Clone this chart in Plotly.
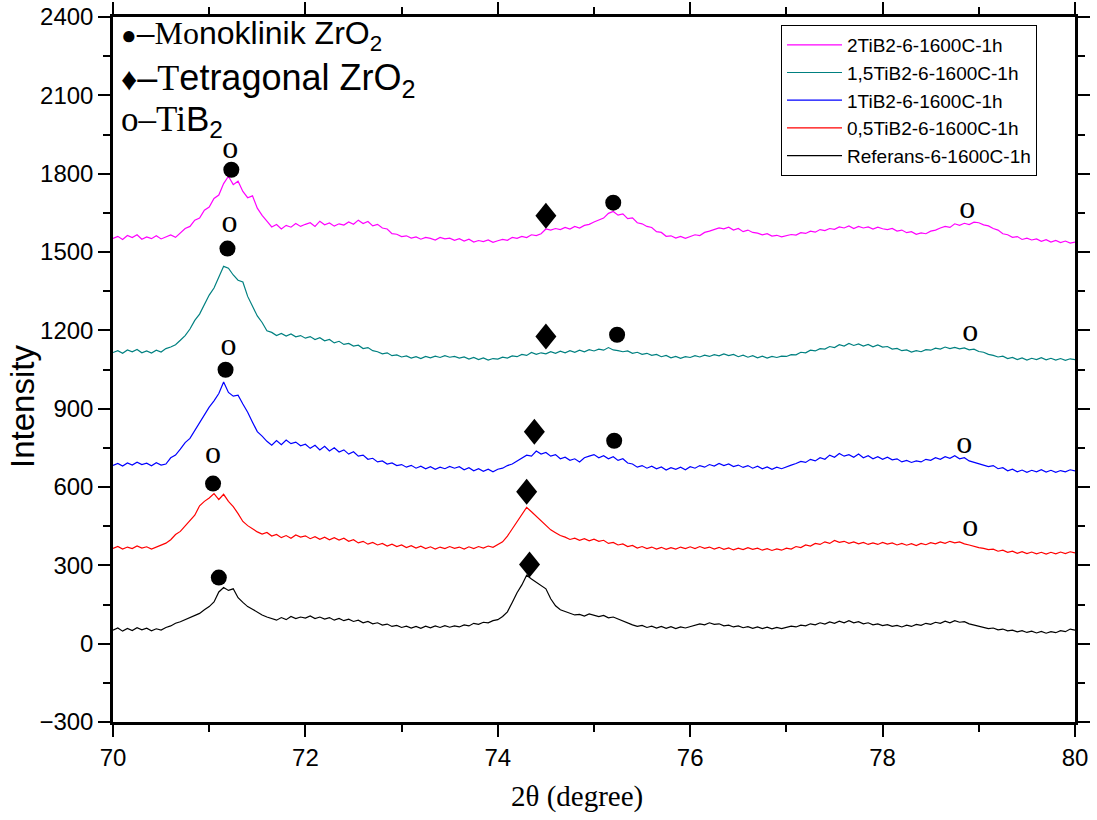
import numpy as np
import plotly.graph_objects as go

# 2-theta scan grid (0.05 degree step)
two_theta = np.round(np.arange(70.0, 80.0001, 0.05), 2)

# Intensities (offset per sample), one value per grid step
i_2tib2 = [
    1552, 1560, 1548, 1563, 1555, 1566, 1549, 1558, 1551, 1562, 1550, 1559, 1565, 1556, 1572, 1590, 1598, 1622, 1630, 1660,
    1672, 1705, 1718, 1762, 1790, 1758, 1771, 1732, 1708, 1715, 1668, 1640, 1618, 1596, 1605, 1588, 1602, 1595, 1609, 1598,
    1606, 1612, 1598, 1618, 1604, 1611, 1599, 1608, 1603, 1615, 1606, 1622, 1609, 1617, 1600, 1606, 1592, 1588, 1570, 1568,
    1559, 1562, 1553, 1558, 1549, 1556, 1552, 1546, 1556, 1550, 1553, 1545, 1551, 1542, 1549, 1538, 1544, 1540, 1546, 1537,
    1543, 1548, 1545, 1556, 1552, 1560, 1555, 1566, 1563, 1570, 1588, 1584, 1590, 1586, 1594, 1588, 1598, 1592, 1602, 1606,
    1615, 1622, 1630, 1648, 1655, 1641, 1646, 1628, 1631, 1612, 1608, 1598, 1594, 1578, 1575, 1560, 1562, 1553, 1560, 1552,
    1558, 1566, 1563, 1575, 1580, 1586, 1592, 1589, 1595, 1584, 1590, 1578, 1584, 1575, 1572, 1566, 1570, 1561, 1564, 1558,
    1562, 1567, 1565, 1574, 1571, 1580, 1576, 1586, 1582, 1590, 1587, 1596, 1592, 1600, 1590, 1598, 1592, 1596, 1588, 1595,
    1589, 1586, 1590, 1580, 1584, 1574, 1578, 1568, 1573, 1570, 1580, 1584, 1592, 1598, 1594, 1608, 1602, 1610, 1605, 1614,
    1612, 1604, 1600, 1590, 1584, 1570, 1566, 1556, 1559, 1548, 1553, 1546, 1550, 1541, 1547, 1538, 1544, 1536, 1542, 1534,
    1538,
]

i_15tib2 = [
    1115, 1122, 1112, 1125, 1118, 1127, 1114, 1121, 1113, 1124, 1117, 1130, 1136, 1145, 1162, 1180, 1205, 1238, 1262, 1300,
    1335, 1362, 1402, 1445, 1438, 1412, 1392, 1385, 1330, 1290, 1255, 1230, 1198, 1192, 1180, 1188, 1178, 1186, 1175, 1180,
    1170, 1176, 1165, 1172, 1160, 1165, 1152, 1158, 1146, 1150, 1140, 1143, 1130, 1134, 1122, 1118, 1110, 1114, 1103, 1106,
    1098, 1102, 1094, 1099, 1092, 1100, 1095, 1101, 1096, 1103, 1097, 1100, 1094, 1098, 1090, 1096, 1088, 1094, 1086, 1092,
    1090, 1097, 1094, 1102, 1099, 1108, 1104, 1115, 1108, 1114, 1110, 1118, 1112, 1120, 1114, 1122, 1116, 1124, 1118, 1126,
    1121, 1128, 1124, 1134, 1125, 1122, 1118, 1121, 1112, 1116, 1108, 1112, 1104, 1108, 1099, 1104, 1095, 1100, 1093, 1099,
    1096, 1103, 1098, 1105, 1100, 1107, 1102, 1110, 1103, 1108, 1099, 1105, 1097, 1103, 1095, 1101, 1094, 1100, 1096, 1101,
    1100, 1107, 1106, 1116, 1114, 1124, 1121, 1130, 1128, 1138, 1134, 1145, 1140, 1150, 1142, 1148, 1140, 1146, 1137, 1144,
    1136, 1138, 1128, 1131, 1122, 1125, 1117, 1122, 1118, 1126, 1124, 1132, 1128, 1136, 1130, 1135, 1129, 1133, 1125, 1128,
    1119, 1116, 1108, 1104, 1098, 1101, 1092, 1096, 1088, 1094, 1086, 1093, 1088, 1095, 1087, 1093, 1086, 1092, 1085, 1091,
    1088,
]

i_1tib2 = [
    683, 690, 680, 692, 684, 695, 686, 691, 681, 693, 684, 688, 712, 722, 745, 770, 786, 815, 846, 878,
    906, 930, 958, 1002, 962, 948, 952, 918, 886, 848, 812, 795, 775, 760, 778, 762, 780, 766, 772, 758,
    764, 748, 760, 742, 756, 738, 750, 734, 742, 726, 735, 718, 722, 706, 710, 696, 700, 688, 692, 682,
    686, 676, 683, 672, 680, 670, 678, 668, 676, 670, 679, 672, 678, 666, 674, 662, 670, 660, 668, 658,
    668, 672, 682, 688, 700, 712, 722, 718, 738, 726, 732, 718, 724, 708, 714, 702, 708, 696, 712, 718,
    724, 712, 720, 708, 716, 702, 708, 692, 688, 676, 682, 672, 680, 670, 677, 665, 674, 668, 676, 666,
    678, 672, 682, 676, 686, 680, 690, 682, 688, 678, 684, 675, 682, 672, 680, 670, 677, 668, 676, 670,
    678, 684, 690, 698, 694, 706, 700, 712, 706, 722, 714, 728, 718, 724, 714, 726, 712, 720, 708, 716,
    706, 714, 704, 708, 696, 702, 694, 700, 696, 706, 702, 712, 706, 716, 710, 720, 708, 712, 700, 694,
    688, 684, 678, 682, 670, 674, 662, 668, 658, 665, 656, 664, 658, 666, 657, 664, 656, 663, 658, 666,
    662,
]

i_05tib2 = [
    365, 372, 362, 370, 364, 374, 366, 371, 362, 369, 376, 385, 398, 418, 430, 452, 470, 492, 528, 545,
    558, 575, 552, 572, 545, 525, 498, 468, 452, 440, 428, 420, 426, 412, 418, 406, 414, 404, 416, 408,
    413, 402, 410, 400, 408, 398, 406, 397, 404, 392, 398, 386, 392, 381, 388, 378, 384, 374, 381, 372,
    378, 368, 375, 366, 373, 364, 371, 362, 370, 364, 372, 365, 370, 362, 371, 364, 372, 366, 374, 369,
    378, 390, 412, 440, 468, 492, 522, 505, 488, 470, 452, 436, 425, 414, 408, 399, 404, 396, 402, 394,
    400, 392, 396, 384, 388, 378, 382, 372, 376, 366, 372, 364, 370, 362, 369, 361, 368, 362, 370, 364,
    371, 364, 372, 365, 370, 362, 369, 361, 367, 359, 366, 360, 368, 361, 366, 358, 364, 357, 363, 358,
    366, 362, 372, 368, 378, 374, 384, 380, 390, 384, 395, 388, 392, 384, 390, 382, 388, 380, 386, 380,
    388, 381, 386, 378, 384, 377, 383, 376, 384, 379, 387, 382, 390, 384, 392, 386, 390, 382, 378, 372,
    368, 365, 360, 362, 354, 358, 350, 354, 346, 352, 345, 351, 344, 350, 343, 350, 344, 351, 345, 352,
    348,
]

i_ref = [
    52, 60, 48, 58, 50, 61, 53, 59, 49, 57, 52, 62, 68, 78, 84, 92, 98, 108, 116, 130,
    142, 160, 198, 215, 204, 210, 176, 158, 142, 132, 120, 110, 102, 96, 90, 100, 92, 104, 96, 102,
    98, 106, 96, 102, 94, 100, 90, 97, 88, 94, 85, 90, 80, 85, 76, 80, 71, 75, 66, 70,
    62, 67, 60, 66, 59, 67, 61, 68, 62, 69, 63, 68, 64, 72, 68, 78, 74, 82, 80, 88,
    92, 104, 122, 158, 195, 225, 262, 248, 236, 222, 210, 172, 145, 130, 124, 116, 110, 112, 106, 114,
    110, 104, 108, 99, 102, 94, 88, 78, 72, 66, 70, 62, 67, 60, 66, 59, 65, 58, 64, 60,
    66, 70, 76, 72, 80, 74, 76, 68, 71, 64, 68, 61, 65, 59, 64, 58, 63, 57, 62, 58,
    63, 67, 64, 71, 68, 76, 72, 80, 75, 83, 78, 86, 80, 88, 80, 84, 76, 80, 72, 76,
    69, 73, 66, 70, 64, 71, 66, 74, 70, 78, 74, 82, 78, 86, 80, 88, 82, 84, 76, 72,
    66, 64, 58, 60, 53, 56, 49, 52, 45, 50, 43, 48, 41, 47, 40, 46, 42, 50, 46, 56,
    52,
]

series_names = [
    "2TiB2-6-1600C-1h",
    "1,5TiB2-6-1600C-1h",
    "1TiB2-6-1600C-1h",
    "0,5TiB2-6-1600C-1h",
    "Referans-6-1600C-1h",
]
series_values = [i_2tib2, i_15tib2, i_1tib2, i_05tib2, i_ref]
series_colors = ["#FF00FF", "#008080", "#0000FF", "#FF0000", "#000000"]

# Phase identification marks
mono_x = [71.23, 75.20, 71.19, 75.24, 71.17, 75.21, 71.04, 71.10]
mono_y = [1815, 1689, 1513, 1183, 1049, 777, 613, 253]
tetra_x = [74.50, 74.50, 74.38, 74.30, 74.33]
tetra_y = [1639, 1176, 812, 582, 303]
tib2_x = [71.22, 78.88, 71.21, 78.91, 71.20, 78.85, 71.04, 78.91]
tib2_y = [1892, 1662, 1609, 1191, 1137, 762, 724, 444]

SANS = "Liberation Sans, Arial, sans-serif"
SERIF = "Liberation Serif, Times New Roman, serif"

fig = go.Figure()

for name, vals, col in zip(series_names, series_values, series_colors):
    fig.add_trace(go.Scatter(
        x=two_theta, y=vals, mode="lines", name=name,
        line=dict(color=col, width=1.2),
    ))

fig.add_trace(go.Scatter(
    x=mono_x, y=mono_y, mode="markers", showlegend=False, hoverinfo="skip",
    marker=dict(symbol="circle", size=16, color="black", line=dict(width=0)),
))

fig.add_trace(go.Scatter(
    x=tib2_x, y=tib2_y, mode="text", text=["o"] * len(tib2_x),
    textposition="middle center", showlegend=False, hoverinfo="skip",
    textfont=dict(family=SERIF, size=32, color="black"),
))

# Tetragonal diamonds: pixel-sized path anchored at each data point
for tx, ty in zip(tetra_x, tetra_y):
    fig.add_shape(
        type="path", xref="x", yref="y",
        xsizemode="pixel", ysizemode="pixel", xanchor=tx, yanchor=ty,
        path="M0,-13 L10.5,0 L0,13 L-10.5,0 Z",
        fillcolor="black", line=dict(width=0),
    )

# Phase key in the upper-left corner
key_lines = [
    ("<span style=\"font-size:26px\">●</span>–<span style=\"font-family:Liberation Serif\">Mo</span>noklinik ZrO<sub>2</sub>", 0.974, 32),
    ("<span style=\"font-size:32px\">♦</span>–<span style=\"font-family:Liberation Serif\">T</span>etragonal ZrO<sub>2</sub>", 0.910, 36),
    ("<span style=\"font-family:Liberation Serif\">o–Ti</span>B<sub>2</sub>", 0.852, 35),
]
for txt, yy, fs in key_lines:
    fig.add_annotation(
        xref="paper", yref="paper", x=0.006, y=yy, xanchor="left", yanchor="middle",
        text=txt, showarrow=False, font=dict(family=SANS, size=fs, color="black"),
    )

# Axis titles
fig.add_annotation(
    xref="paper", yref="paper", x=0.482, y=-0.106, xanchor="center", yanchor="middle",
    text="2θ (degree)", showarrow=False, font=dict(family=SERIF, size=29, color="black"),
)
fig.add_annotation(
    xref="paper", yref="paper", x=-0.0935, y=0.447, xanchor="center", yanchor="middle",
    text="Intensity", textangle=-90, showarrow=False,
    font=dict(family=SANS, size=33, color="black"),
)

axis_common = dict(
    showline=True, linecolor="black", linewidth=2.5, mirror="allticks",
    ticks="outside", ticklen=12, tickwidth=2, tickcolor="black",
    showgrid=False, zeroline=False, automargin=False,
)

fig.update_xaxes(
    range=[70, 80], dtick=2, tick0=70,
    tickfont=dict(family=SANS, size=24, color="black"),
    minor=dict(ticks="outside", ticklen=7, tickwidth=2, tickcolor="black", dtick=1),
    **axis_common,
)
fig.update_yaxes(
    range=[-300, 2400], dtick=300, tick0=0,
    tickfont=dict(family=SANS, size=24, color="black"),
    minor=dict(ticks="outside", ticklen=7, tickwidth=2, tickcolor="black", dtick=150),
    **axis_common,
)

fig.update_layout(
    width=1097, height=820,
    margin=dict(l=113, r=22, t=17, b=98),
    paper_bgcolor="white", plot_bgcolor="white",
    showlegend=True,
    legend=dict(
        x=0.6944, y=0.9887, xanchor="left", yanchor="top",
        bgcolor="white", bordercolor="black", borderwidth=1,
        font=dict(family=SANS, size=19, color="black"),
        itemwidth=55, tracegroupgap=0,
    ),
)

fig.write_html("out.html")
